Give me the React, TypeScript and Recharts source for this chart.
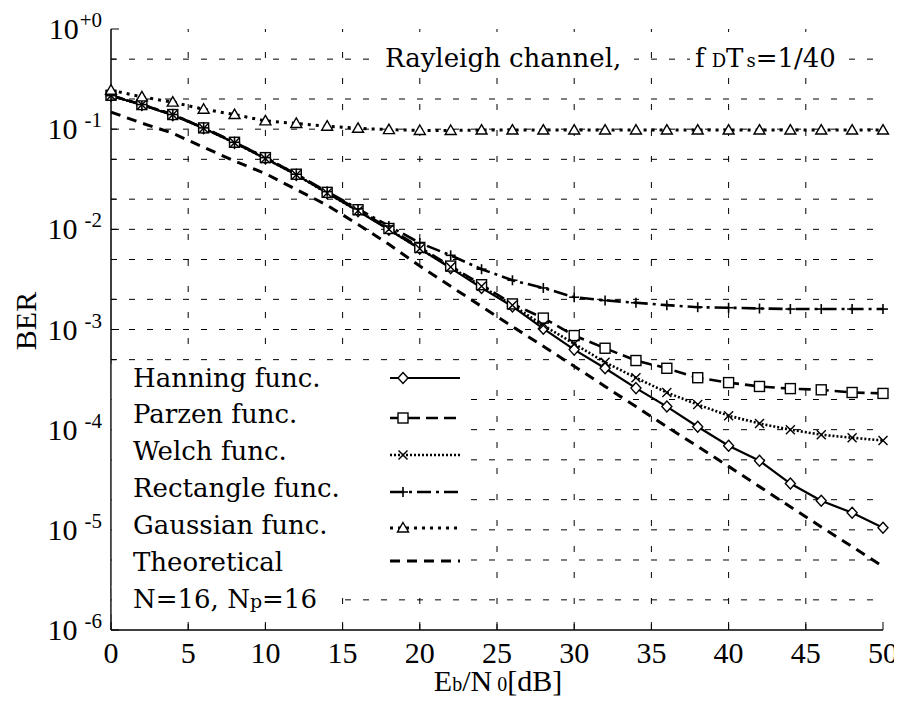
import React from 'react';
import { LineChart, Line, XAxis, YAxis, ReferenceLine } from 'recharts';

// Eb/N0 in dB, one simulated point every 2 dB
const snr = [0, 2, 4, 6, 8, 10, 12, 14, 16, 18, 20, 22, 24, 26, 28, 30, 32, 34, 36, 38, 40, 42, 44, 46, 48, 50];

const hanning = [0.216, 0.174, 0.138, 0.102, 0.073, 0.051, 0.035, 0.023, 0.0152, 0.0099, 0.0064, 0.0041, 0.0026, 0.0017, 0.00102, 0.00063, 0.00041, 0.00026, 0.00017, 0.000107, 0.000069, 0.000049, 0.000029, 0.0000195, 0.0000148, 0.0000105];
const parzen = [0.218, 0.176, 0.14, 0.103, 0.074, 0.052, 0.0355, 0.0234, 0.0157, 0.0102, 0.0066, 0.0043, 0.0028, 0.0018, 0.0013, 0.00087, 0.00065, 0.00049, 0.00041, 0.00033, 0.000295, 0.00027, 0.000257, 0.00025, 0.000235, 0.00023];
const welch = [0.216, 0.175, 0.139, 0.102, 0.073, 0.051, 0.035, 0.023, 0.0153, 0.01, 0.0064, 0.0042, 0.0027, 0.00175, 0.0011, 0.00072, 0.00047, 0.00033, 0.000235, 0.000178, 0.000138, 0.000115, 0.0001, 0.000089, 0.000083, 0.000078];
const rectangle = [0.216, 0.176, 0.14, 0.103, 0.074, 0.052, 0.0355, 0.0238, 0.016, 0.0108, 0.0073, 0.0055, 0.004, 0.0031, 0.0026, 0.0021, 0.00195, 0.00185, 0.00175, 0.00167, 0.00165, 0.00162, 0.0016, 0.0016, 0.0016, 0.0016];
const gaussian = [0.245, 0.21, 0.186, 0.158, 0.14, 0.121, 0.114, 0.107, 0.102, 0.099, 0.097, 0.097, 0.098, 0.098, 0.098, 0.098, 0.098, 0.098, 0.098, 0.098, 0.098, 0.098, 0.098, 0.098, 0.098, 0.098];
const theoretical = [0.148, 0.115, 0.091, 0.066, 0.048, 0.036, 0.025, 0.0174, 0.0112, 0.0071, 0.0043, 0.0027, 0.0017, 0.00107, 0.00068, 0.00043, 0.00027, 0.00017, 0.000107, 0.000068, 0.000043, 0.000027, 0.000017, 0.0000107, 0.0000068, 0.0000043];

const xTicks = [0, 5, 10, 15, 20, 25, 30, 35, 40, 45, 50];
const yTicks = [1e-6, 2e-6, 5e-6, 1e-5, 2e-5, 5e-5, 1e-4, 2e-4, 5e-4, 1e-3, 2e-3, 5e-3, 1e-2, 2e-2, 5e-2, 0.1, 0.2, 0.5, 1];
const gridY = [2e-6, 5e-6, 1e-5, 2e-5, 5e-5, 1e-4, 2e-4, 5e-4, 1e-3, 2e-3, 5e-3, 1e-2, 2e-2, 5e-2, 0.1, 0.2, 0.5];
const gridX = [5, 10, 15, 20, 25, 30, 35, 40, 45];

const legendNames = ['Hanning func.', 'Parzen func.', 'Welch func.', 'Rectangle func.', 'Gaussian func.', 'Theoretical'];

const data = snr.map((x, i) => ({
  x,
  hanning: hanning[i],
  parzen: parzen[i],
  welch: welch[i],
  rectangle: rectangle[i],
  gaussian: gaussian[i],
  theoretical: theoretical[i],
}));

const NUM_FONT = '"Liberation Serif", "Times New Roman", serif';
const TXT_FONT = '"DejaVu Serif", "Liberation Serif", serif';

// marker shapes
const diamond = (cx: number, cy: number, k?: any) => (
  <polygon key={k} points={`${cx},${cy - 5.5} ${cx + 5},${cy} ${cx},${cy + 5.5} ${cx - 5},${cy}`} fill="#fff" stroke="#000" strokeWidth={1.4} />
);
const square = (cx: number, cy: number, k?: any) => (
  <rect key={k} x={cx - 5} y={cy - 5} width={10} height={10} fill="#fff" stroke="#000" strokeWidth={1.4} />
);
const cross = (cx: number, cy: number, k?: any) => (
  <g key={k} stroke="#000" strokeWidth={1.4}>
    <line x1={cx - 4.5} y1={cy - 4.5} x2={cx + 4.5} y2={cy + 4.5} />
    <line x1={cx - 4.5} y1={cy + 4.5} x2={cx + 4.5} y2={cy - 4.5} />
  </g>
);
const plus = (cx: number, cy: number, k?: any) => (
  <g key={k} stroke="#000" strokeWidth={1.6}>
    <line x1={cx - 5} y1={cy} x2={cx + 5} y2={cy} />
    <line x1={cx} y1={cy - 5} x2={cx} y2={cy + 5} />
  </g>
);
const triangle = (cx: number, cy: number, k?: any) => (
  <polygon key={k} points={`${cx},${cy - 5.5} ${cx + 5.5},${cy + 4} ${cx - 5.5},${cy + 4}`} fill="#fff" stroke="#000" strokeWidth={1.4} />
);

const series = [
  { key: 'hanning', dash: undefined, width: 2.2, marker: diamond },
  { key: 'parzen', dash: '12 6', width: 2.6, marker: square },
  { key: 'welch', dash: '2 2', width: 2.6, marker: cross },
  { key: 'rectangle', dash: '14 5 3 5', width: 2.6, marker: plus },
  { key: 'gaussian', dash: '3 5', width: 3, marker: triangle },
  { key: 'theoretical', dash: '10 7', width: 3, marker: null },
];

const YTickLeft = (props: any) => {
  const { x, y, payload } = props;
  const v = payload.value;
  const e = Math.round(Math.log10(v));
  const major = Math.abs(Math.log10(v) - e) < 1e-6;
  return (
    <g>
      <line x1={x} x2={x + (major ? 8 : 5)} y1={y} y2={y} stroke="#000" strokeWidth={1} />
      {major && (
        <text x={x - 9} y={y + 10} textAnchor="end" fontFamily={NUM_FONT} fontSize={30} fill="#000">
          10
          <tspan dx={e === 0 ? 1 : 7} dy={-12} fontSize={21}>{e === 0 ? '+0' : String(e)}</tspan>
        </text>
      )}
    </g>
  );
};

const YTickRight = (props: any) => {
  const { x, y, payload } = props;
  const v = payload.value;
  const e = Math.round(Math.log10(v));
  const major = Math.abs(Math.log10(v) - e) < 1e-6;
  return <line x1={x - (major ? 8 : 5)} x2={x} y1={y} y2={y} stroke="#000" strokeWidth={1} />;
};

const XTickBottom = (props: any) => {
  const { x, y, payload } = props;
  return (
    <g>
      <line x1={x} x2={x} y1={y} y2={y - 8} stroke="#000" strokeWidth={1} />
      <text x={x} y={y + 33} textAnchor="middle" fontFamily={NUM_FONT} fontSize={30} fill="#000">
        {payload.value}
      </text>
    </g>
  );
};

const XTickTop = (props: any) => {
  const { x, y } = props;
  return <line x1={x} x2={x} y1={y} y2={y + 8} stroke="#000" strokeWidth={1} />;
};

export default function App() {
  const legendY = [370, 410, 447, 484, 520, 553];
  const legendBase = [379, 415, 452, 489, 526, 563];

  return (
    <div style={{ position: 'relative', width: 894, height: 699, background: '#fff' }}>
      <LineChart width={894} height={699} data={data} margin={{ top: 21, right: 19, bottom: 0, left: 0 }}>
        <XAxis
          xAxisId="b"
          dataKey="x"
          type="number"
          domain={[0, 50]}
          ticks={xTicks}
          interval={0}
          height={77}
          tickSize={0}
          tickMargin={0}
          tickLine={false}
          axisLine={{ stroke: '#000', strokeWidth: 1.5 }}
          tick={(p: any) => <XTickBottom {...p} />}
        />
        <XAxis
          xAxisId="t"
          orientation="top"
          dataKey="x"
          type="number"
          domain={[0, 50]}
          ticks={xTicks}
          interval={0}
          height={0}
          tickSize={0}
          tickMargin={0}
          tickLine={false}
          axisLine={{ stroke: '#000', strokeWidth: 1.5 }}
          tick={(p: any) => <XTickTop {...p} />}
        />
        <YAxis
          yAxisId="l"
          scale="log"
          type="number"
          domain={[1e-6, 1]}
          allowDataOverflow
          ticks={yTicks}
          interval={0}
          width={103}
          tickSize={0}
          tickMargin={0}
          tickLine={false}
          axisLine={{ stroke: '#000', strokeWidth: 1.5 }}
          tick={(p: any) => <YTickLeft {...p} />}
        />
        <YAxis
          yAxisId="r"
          orientation="right"
          scale="log"
          type="number"
          domain={[1e-6, 1]}
          allowDataOverflow
          ticks={yTicks}
          interval={0}
          width={0}
          tickSize={0}
          tickMargin={0}
          tickLine={false}
          axisLine={{ stroke: '#000', strokeWidth: 1.5 }}
          tick={(p: any) => <YTickRight {...p} />}
        />
        {gridY.map((v) => (
          <ReferenceLine key={`gy${v}`} xAxisId="b" yAxisId="l" y={v} stroke="#000" strokeWidth={1} strokeDasharray="6 12" />
        ))}
        {gridX.map((v) => (
          <ReferenceLine key={`gx${v}`} xAxisId="b" yAxisId="l" x={v} stroke="#000" strokeWidth={1} strokeDasharray="6 20" />
        ))}
        {series.map((s) => (
          <Line
            key={s.key}
            xAxisId="b"
            yAxisId="l"
            dataKey={s.key}
            type="linear"
            stroke="#000"
            strokeWidth={s.width}
            strokeDasharray={s.dash}
            dot={s.marker ? (p: any) => s.marker!(p.cx, p.cy, `${s.key}-${p.index}`) : false}
            activeDot={false}
            isAnimationActive={false}
          />
        ))}
      </LineChart>

      <svg width={894} height={699} style={{ position: 'absolute', left: 0, top: 0, pointerEvents: 'none' }}>
        {/* title */}
        <rect x={372} y={38} width={254} height={30} fill="#fff" />
        <rect x={682} y={38} width={158} height={30} fill="#fff" />
        <text x={377} y={59} fontFamily={TXT_FONT} fontSize={26} fill="#000">Rayleigh channel,</text>
        <text x={687} y={59} fontFamily={TXT_FONT} fontSize={26} fill="#000">
          f<tspan dx={7} fontSize={18}>D</tspan>T<tspan dx={3} fontSize={18}>s</tspan>=1/40
        </text>

        {/* legend */}
        <rect x={103.8} y={356} width={356} height={224} fill="#fff" />
        <rect x={103.8} y={578} width={224} height={28} fill="#fff" />
        {legendNames.map((name, i) => {
          const s = series[i];
          const cy = legendY[i];
          return (
            <g key={name}>
              <text x={125} y={legendBase[i]} fontFamily={TXT_FONT} fontSize={26} fill="#000">{name}</text>
              <line x1={382} x2={452} y1={cy} y2={cy} stroke="#000" strokeWidth={s.width} strokeDasharray={s.dash} />
              {s.marker && s.marker(395, cy)}
            </g>
          );
        })}
        <text x={125} y={600} fontFamily={TXT_FONT} fontSize={26} fill="#000">
          N=16, N<tspan fontSize={19}>p</tspan>=16
        </text>

        {/* axis titles */}
        <text x={490} y={683} textAnchor="middle" fontFamily={NUM_FONT} fontSize={30} fill="#000">
          E<tspan fontSize={20}>b</tspan>/N<tspan dx={5} fontSize={20}>0</tspan>[dB]
        </text>
        <text x={0} y={0} transform="translate(28 313) rotate(-90)" textAnchor="middle" fontFamily={NUM_FONT} fontSize={30} fill="#000">
          BER
        </text>
      </svg>
    </div>
  );
}
